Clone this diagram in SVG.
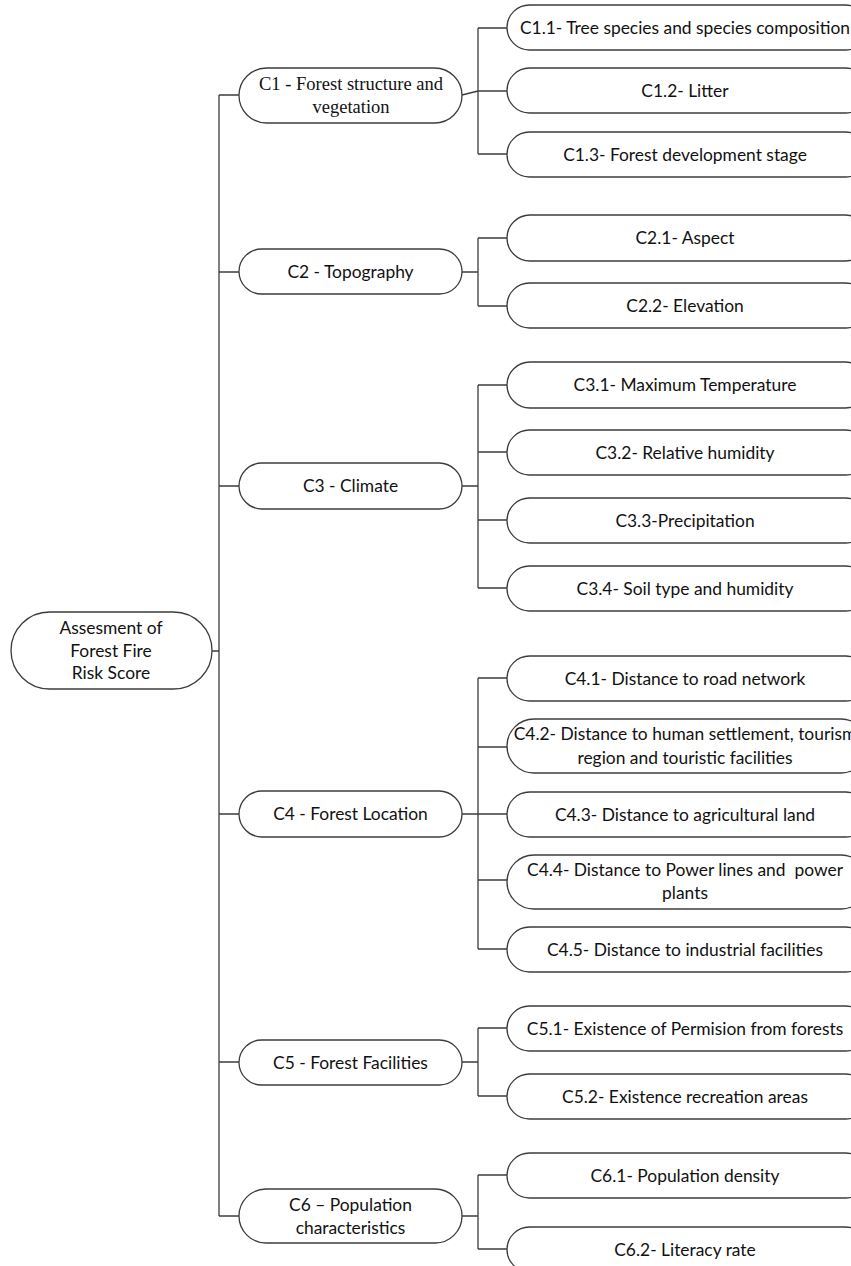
<svg xmlns="http://www.w3.org/2000/svg" width="851" height="1266" viewBox="0 0 851 1266">
<style>
.bg{fill:#ffffff}
.box{fill:#ffffff;stroke:#3c3c3c;stroke-width:1.3}
.ln{fill:none;stroke:#3c3c3c;stroke-width:1.3}
.t{font-family:Lato,"Open Sans","Noto Sans",sans-serif;font-size:17.4px;fill:#111111;text-anchor:middle}
.s{font-family:"Liberation Serif","Times New Roman",serif;font-size:18.5px;fill:#111111;text-anchor:middle}
</style>
<rect class="bg" x="0" y="0" width="851" height="1266"/>
<g id="connectors">
<path class="ln" d="M219,95 V1216 M212,651 H219 M219,95 H239 M219,272 H239 M219,486 H239 M219,814 H239 M219,1062 H239 M219,1216 H239"/>
<path class="ln" d="M462,95 L478,91 M478,28 V154 M478,28 H507 M478,91 H507 M478,154 H507"/>
<path class="ln" d="M462,272 H478 M478,238 V306 M478,238 H507 M478,306 H507"/>
<path class="ln" d="M462,486 H478 M478,385 V588 M478,385 H507 M478,452 H507 M478,520 H507 M478,588 H507"/>
<path class="ln" d="M462,814 H478 M478,678 V949 M478,678 H507 M478,747 H507 M478,814 H507 M478,880 H507 M478,949 H507"/>
<path class="ln" d="M462,1062 H478 M478,1028 V1096 M478,1028 H507 M478,1096 H507"/>
<path class="ln" d="M462,1216 H478 M478,1175 V1249 M478,1175 H507 M478,1249 H507"/>
</g>
<g id="root"><rect class="box" x="11" y="612" width="201" height="77" rx="38.5"/><text class="t" x="111" y="634">Assesment of</text><text class="t" x="111" y="657">Forest Fire</text><text class="t" x="111" y="679">Risk Score</text></g>
<g id="c1"><rect class="box" x="239" y="68" width="223" height="55" rx="27.5"/><text class="s" x="351" y="90">C1 - Forest structure and</text><text class="s" x="351" y="113">vegetation</text></g>
<g id="c2"><rect class="box" x="239" y="249" width="223" height="45" rx="22.5"/><text class="t" x="350.5" y="277.5">C2 - Topography</text></g>
<g id="c3"><rect class="box" x="239" y="463" width="223" height="46" rx="23"/><text class="t" x="350.5" y="492">C3 - Climate</text></g>
<g id="c4"><rect class="box" x="239" y="791" width="223" height="46" rx="23"/><text class="t" x="350.5" y="820">C4 - Forest Location</text></g>
<g id="c5"><rect class="box" x="239" y="1040" width="223" height="45" rx="22.5"/><text class="t" x="350.5" y="1068.5">C5 - Forest Facilities</text></g>
<g id="c6"><rect class="box" x="239" y="1189" width="223" height="54" rx="27"/><text class="t" x="350.5" y="1211">C6 – Population</text><text class="t" x="350.5" y="1234">characteristics</text></g>
<g id="c1_1"><rect class="box" x="507" y="5" width="361" height="45" rx="22.5"/><text class="t" x="685" y="33.5">C1.1- Tree species and species composition</text></g>
<g id="c1_2"><rect class="box" x="507" y="68" width="361" height="45" rx="22.5"/><text class="t" x="685" y="96.5">C1.2- Litter</text></g>
<g id="c1_3"><rect class="box" x="507" y="132" width="361" height="45" rx="22.5"/><text class="t" x="685" y="160.5">C1.3- Forest development stage</text></g>
<g id="c2_1"><rect class="box" x="507" y="215" width="361" height="46" rx="23"/><text class="t" x="685" y="244">C2.1- Aspect</text></g>
<g id="c2_2"><rect class="box" x="507" y="283" width="361" height="45" rx="22.5"/><text class="t" x="685" y="311.5">C2.2- Elevation</text></g>
<g id="c3_1"><rect class="box" x="507" y="362" width="361" height="46" rx="23"/><text class="t" x="685" y="391">C3.1- Maximum Temperature</text></g>
<g id="c3_2"><rect class="box" x="507" y="430" width="361" height="45" rx="22.5"/><text class="t" x="685" y="458.5">C3.2- Relative humidity</text></g>
<g id="c3_3"><rect class="box" x="507" y="498" width="361" height="45" rx="22.5"/><text class="t" x="685" y="526.5">C3.3-Precipitation</text></g>
<g id="c3_4"><rect class="box" x="507" y="566" width="361" height="45" rx="22.5"/><text class="t" x="685" y="594.5">C3.4- Soil type and humidity</text></g>
<g id="c4_1"><rect class="box" x="507" y="656" width="361" height="45" rx="22.5"/><text class="t" x="685" y="684.5">C4.1- Distance to road network</text></g>
<g id="c4_2"><rect class="box" x="507" y="719" width="361" height="54" rx="27"/><text class="t" x="685" y="740">C4.2- Distance to human settlement, tourism</text><text class="t" x="685" y="764">region and touristic facilities</text></g>
<g id="c4_3"><rect class="box" x="507" y="792" width="361" height="45" rx="22.5"/><text class="t" x="685" y="820.5">C4.3- Distance to agricultural land</text></g>
<g id="c4_4"><rect class="box" x="507" y="855" width="361" height="54" rx="27"/><text class="t" x="685" y="876" xml:space="preserve">C4.4- Distance to Power lines and  power</text><text class="t" x="685" y="899">plants</text></g>
<g id="c4_5"><rect class="box" x="507" y="927" width="361" height="45" rx="22.5"/><text class="t" x="685" y="955.5">C4.5- Distance to industrial facilities</text></g>
<g id="c5_1"><rect class="box" x="507" y="1006" width="361" height="45" rx="22.5"/><text class="t" x="685" y="1034.5">C5.1- Existence of Permision from forests</text></g>
<g id="c5_2"><rect class="box" x="507" y="1074" width="361" height="45" rx="22.5"/><text class="t" x="685" y="1102.5">C5.2- Existence recreation areas</text></g>
<g id="c6_1"><rect class="box" x="507" y="1153" width="361" height="45" rx="22.5"/><text class="t" x="685" y="1181.5">C6.1- Population density</text></g>
<g id="c6_2"><rect class="box" x="507" y="1227" width="361" height="45" rx="22.5"/><text class="t" x="685" y="1255.5">C6.2- Literacy rate</text></g>
</svg>
